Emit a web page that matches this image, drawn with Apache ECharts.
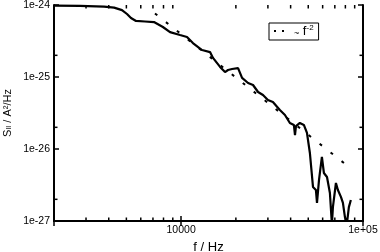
<!DOCTYPE html>
<html>
<head>
<meta charset="utf-8">
<script src="https://cdn.jsdelivr.net/npm/echarts@6/dist/echarts.min.js"></script>
<style>html,body{margin:0;padding:0;background:#fff;}#c{width:380px;height:252px;}</style>
</head>
<body>
<div id="c"></div>
<script>
var freqHz = [2000, 2780, 3770, 4280, 4730, 5040, 5300, 5650, 6330, 7090, 7940, 8690, 9860, 10770, 11610, 13030, 14420, 14970, 16370, 17430, 18110, 19050, 20560, 21630, 23340, 24850, 26480, 28190, 30010, 31960, 34910, 37230, 39630, 41690, 42270, 42800, 44980, 47300, 49190, 51050, 53090, 55090, 55850, 57280, 59430, 60960, 63390, 65770, 67460, 68320, 70980, 72790, 75620, 77560, 79520, 81500, 83620, 85740];
var spectrum = [9.8e-25, 9.7e-25, 9.5e-25, 9.2e-25, 8.5e-25, 7.5e-25, 6.6e-25, 6.0e-25, 5.9e-25, 5.8e-25, 4.95e-25, 4.2e-25, 3.83e-25, 3.6e-25, 2.96e-25, 2.37e-25, 2.22e-25, 1.84e-25, 1.38e-25, 1.17e-25, 1.25e-25, 1.29e-25, 1.33e-25, 9.7e-26, 8.26e-26, 7.74e-26, 6.19e-26, 5.62e-26, 4.8e-26, 4.5e-26, 3.48e-26, 2.97e-26, 2.3e-26, 2.16e-26, 1.56e-26, 2.08e-26, 2.3e-26, 2.16e-26, 1.67e-26, 8.8e-27, 2.97e-27, 2.7e-27, 1.78e-27, 3.7e-27, 7.75e-27, 4.64e-27, 4.08e-27, 2.45e-27, 9e-28, 1.56e-27, 3.37e-27, 2.7e-27, 2.16e-27, 1.78e-27, 1.14e-27, 9e-28, 1.56e-27, 1.96e-27];
// ~f^-2 guide line end points
var fitFreq = [7180, 86000];
var fitS = [7.64e-25, 5.33e-27];
// axis ranges and ticks
var xRange = [2000, 100000];
var yRange = [1e-27, 1e-24];
var xMinorTicks = [3000, 4000, 5000, 6000, 7000, 8000, 9000, 20000, 30000, 40000, 50000, 60000, 70000, 80000, 90000];
var yMinorTicks = [2e-27, 2e-26, 2e-25];
var legendLabel = '~ f^-2';

var FONT = 'Liberation Sans, Arial, Helvetica, sans-serif';

function decade(v) {
  if (!(v > 0)) return null;
  var e = Math.log10(v);
  var r = Math.round(e);
  return Math.abs(e - r) < 1e-6 ? r : null;
}
function xLabel(v) {
  var d = decade(v);
  if (d === 4) return '10000';
  if (d === 5) return '1e+05';
  return '';
}
function yLabel(v) {
  var d = decade(v);
  if (d === null) return '';
  return '1e' + (d < 0 ? '-' : '+') + Math.abs(d);
}

var lineData = freqHz.map(function (f, i) { return [f, spectrum[i]]; });
var fitData = fitFreq.map(function (f, i) { return [f, fitS[i]]; });

// a hair below 1e-27 so that the 1e-27 tick is a regular (properly rounded) tick
var yMinAxis = yRange[0] * (1 - 1e-5);

var axisLineStyle = { show: true, lineStyle: { color: '#000', width: 2 } };
var tickStyle = { show: true, inside: true, length: 5, lineStyle: { color: '#000', width: 1.5 } };

var chart = echarts.init(document.getElementById('c'), null, { renderer: 'canvas' });
chart.setOption({
  animation: false,
  backgroundColor: '#fff',
  grid: { left: 54, right: 17, top: 5, bottom: 31, containLabel: false, outerBoundsMode: 'none' },
  legend: {
    data: [legendLabel],
    left: 269, top: 23,
    borderColor: '#000', borderWidth: 1,
    padding: [1, 5, 2, 4],
    itemWidth: 13, itemHeight: 8, itemGap: 4,
    lineStyle: { type: [2, 6], width: 2, color: '#000' },
    itemStyle: { color: 'rgba(0,0,0,0)', borderWidth: 0 },
    formatter: function () { return '{t|~} f{sup|-2}'; },
    textStyle: {
      fontFamily: FONT, fontSize: 13, color: '#000', lineHeight: 14,
      rich: {
        t: { fontFamily: FONT, fontSize: 9, color: '#000', verticalAlign: 'bottom', padding: [0, 0, 0, 2] },
        sup: { fontFamily: FONT, fontSize: 8, color: '#000', verticalAlign: 'top' }
      }
    }
  },
  xAxis: [{
    type: 'log', min: xRange[0], max: xRange[1], position: 'bottom',
    name: 'f / Hz', nameLocation: 'middle', nameGap: 16,
    nameTextStyle: { fontFamily: FONT, fontSize: 13, color: '#000', verticalAlign: 'top' },
    axisLine: axisLineStyle, axisTick: tickStyle, splitLine: { show: false },
    axisLabel: { formatter: xLabel, fontFamily: FONT, fontSize: 10.5, color: '#000', margin: 4, showMinLabel: false, showMaxLabel: true, hideOverlap: false }
  }, {
    type: 'log', min: xRange[0], max: xRange[1], position: 'top',
    axisLine: axisLineStyle, axisTick: tickStyle, splitLine: { show: false }, axisLabel: { show: false }
  }],
  yAxis: [{
    type: 'log', min: yMinAxis, max: yRange[1], position: 'left',
    name: 'S{sub|II} / A\u00b2/Hz', nameLocation: 'middle', nameGap: 41, nameRotate: 90, nameMoveOverlap: false,
    nameTextStyle: { fontFamily: FONT, fontSize: 11, color: '#000',
      rich: { sub: { fontFamily: FONT, fontSize: 7, color: '#000', verticalAlign: 'bottom' } } },
    axisLine: axisLineStyle, axisTick: tickStyle, splitLine: { show: false },
    axisLabel: { formatter: yLabel, fontFamily: FONT, fontSize: 10.5, color: '#000', margin: 4, showMinLabel: false, showMaxLabel: true, hideOverlap: false }
  }, {
    type: 'log', min: yMinAxis, max: yRange[1], position: 'right',
    axisLine: axisLineStyle, axisTick: tickStyle, splitLine: { show: false }, axisLabel: { show: false }
  }],
  series: [{
    name: 'data', type: 'line', xAxisIndex: 0, yAxisIndex: 0,
    data: lineData, showSymbol: false, symbol: 'none', smooth: false, clip: true,
    lineStyle: { color: '#000', width: 2.2 }, z: 3
  }, {
    name: legendLabel, type: 'line', xAxisIndex: 0, yAxisIndex: 0,
    data: fitData, showSymbol: false, symbol: 'none',
    lineStyle: { color: '#000', width: 2, type: [3, 11] }, itemStyle: { color: '#000' }, z: 2
  }, {
    name: 'xticks', type: 'custom', xAxisIndex: 0, yAxisIndex: 0, silent: true, clip: false,
    data: xMinorTicks.map(function (v) { return [v, yRange[0]]; }),
    renderItem: function (params, api) {
      var b = api.coord([api.value(0), yRange[0]]);
      var t = api.coord([api.value(0), yRange[1]]);
      return { type: 'group', children: [
        { type: 'line', shape: { x1: b[0], y1: b[1], x2: b[0], y2: b[1] - 3.5 }, style: { stroke: '#000', lineWidth: 1.5 } },
        { type: 'line', shape: { x1: t[0], y1: t[1], x2: t[0], y2: t[1] + 3.5 }, style: { stroke: '#000', lineWidth: 1.5 } }
      ] };
    }
  }, {
    name: 'yticks', type: 'custom', xAxisIndex: 0, yAxisIndex: 0, silent: true, clip: false,
    data: yMinorTicks.map(function (v) { return [xRange[0], v]; }),
    renderItem: function (params, api) {
      var l = api.coord([xRange[0], api.value(1)]);
      var r = api.coord([xRange[1], api.value(1)]);
      return { type: 'group', children: [
        { type: 'line', shape: { x1: l[0], y1: l[1], x2: l[0] + 3.5, y2: l[1] }, style: { stroke: '#000', lineWidth: 1.5 } },
        { type: 'line', shape: { x1: r[0], y1: r[1], x2: r[0] - 3.5, y2: r[1] }, style: { stroke: '#000', lineWidth: 1.5 } }
      ] };
    }
  }]
});
</script>
</body>
</html>
